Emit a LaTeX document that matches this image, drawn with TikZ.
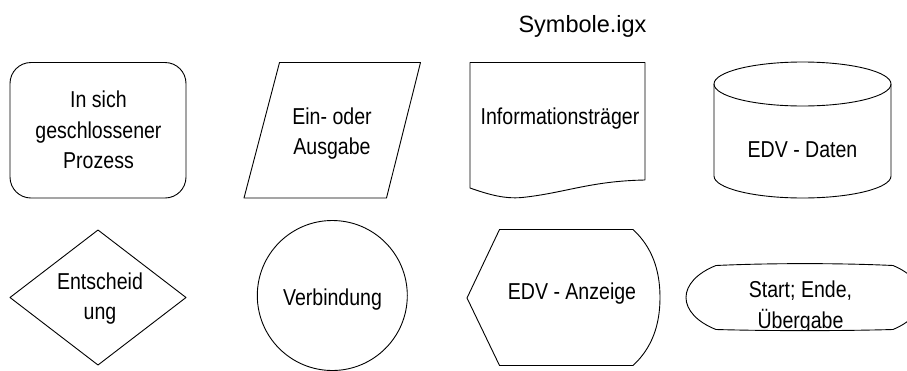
\documentclass[tikz,border=0pt]{standalone}
\usepackage{fontspec}
\setmainfont{Liberation Sans}
\newfontfamily\narrowsans[FakeStretch=0.85]{Liberation Sans}
\begin{document}
\begin{tikzpicture}[x=1pt, y=-1pt,
  outline/.style={draw=black, line width=0.9pt, line join=round},
  lbl/.style={anchor=base, inner sep=0pt, font=\narrowsans\fontsize{23}{30.5}\selectfont},
  ttl/.style={anchor=base, inner sep=0pt, font=\fontsize{23.5}{28}\selectfont}]
\useasboundingbox (0,0) rectangle (907,370);
\clip (0,0) rectangle (907,370);

% title
\node[ttl] (title) at (582.5,32) {Symbole.igx};

% --- top row ---
% self-contained process
\draw[outline, rounded corners=21pt] (10,62.5) rectangle (186,198);
\node[lbl] (prozess) at (98.5,107.5)
  {\begin{tabular}[t]{@{}c@{}}In sich\\geschlossener\\Prozess\end{tabular}};

% input / output
\draw[outline] (279.5,62.5) -- (420.5,62.5) -- (386.5,198) -- (244,198) -- cycle;
\node[lbl] (ausgabe) at (332,124)
  {\begin{tabular}[t]{@{}c@{}}Ein- oder\\Ausgabe\end{tabular}};

% document
\draw[outline] (470,62.5) -- (645,62.5) -- (645,180)
  .. controls (590,181) and (565,193) .. (522,197.5)
  .. controls (505,199) and (490,195) .. (470,188) -- cycle;
\node[lbl] (traeger) at (560,124.5) {Informationsträger};

% stored data
\draw[outline] (802.5,84) ellipse [x radius=88.5pt, y radius=22pt];
\draw[outline] (714,84) -- (714,176)
  arc [start angle=180, end angle=360, x radius=88.5pt, y radius=22pt] -- (891,84);
\node[lbl] (daten) at (802.5,157) {EDV - Daten};

% --- bottom row ---
% decision
\draw[outline] (98,230) -- (186,297.5) -- (98,365) -- (10,297.5) -- cycle;
\node[lbl] (entscheidung) at (100,289)
  {\begin{tabular}[t]{@{}c@{}}Entscheid\\ung\end{tabular}};

% connector
\draw[outline] (332.3,295.5) circle [radius=75pt];
\node[lbl] (verbindung) at (332.5,305) {Verbindung};

% display
\draw[outline] (499.5,229.5) -- (633,229.5)
  .. controls (652,247) and (660,270) .. (660,297.5)
  .. controls (660,325) and (652,348) .. (633,365.5)
  -- (499.5,365.5) -- (467,298) -- cycle;
\node[lbl] (anzeige) at (572,299.5) {EDV - Anzeige};

% terminal: outline, then its label clipped to the inside
\draw[outline] (716,265.5)
  .. controls (770,263) and (840,263) .. (893,265.5)
  .. controls (911,273) and (922,285) .. (922,297.5)
  .. controls (922,310) and (911,322) .. (893,329.5)
  .. controls (840,331) and (770,331) .. (716,329.5)
  .. controls (697,322) and (686,310) .. (686,297.5)
  .. controls (686,285) and (697,273) .. cycle;
\begin{scope}
\clip (716,265.5)
  .. controls (770,263) and (840,263) .. (893,265.5)
  .. controls (911,273) and (922,285) .. (922,297.5)
  .. controls (922,310) and (911,322) .. (893,329.5)
  .. controls (840,331) and (770,331) .. (716,329.5)
  .. controls (697,322) and (686,310) .. (686,297.5)
  .. controls (686,285) and (697,273) .. cycle;
\node[lbl] (start) at (800.5,297.7)
  {\begin{tabular}[t]{@{}c@{}}Start; Ende,\\Übergabe\end{tabular}};
\end{scope}
\end{tikzpicture}
\end{document}
